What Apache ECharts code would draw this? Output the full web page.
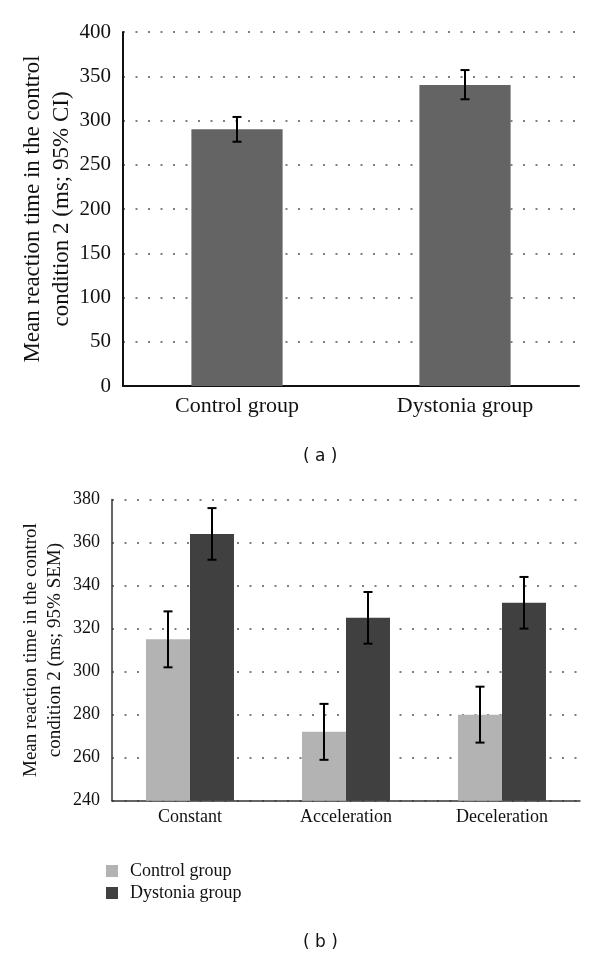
<!DOCTYPE html>
<html>
<head>
<meta charset="utf-8">
<script src="https://cdn.jsdelivr.net/npm/echarts@6/dist/echarts.min.js"></script>
<style>
html,body{margin:0;padding:0;background:#fff;}
#chart{width:600px;height:955px;}
</style>
</head>
<body>
<div id="chart"></div>
<script>
// Panel (a)
var topCategories = ['Control group', 'Dystonia group'];
var topMeans = [290, 340];
var topLow = [276, 324];
var topHigh = [304, 357];
var topTicks = [0, 50, 100, 150, 200, 250, 300, 350, 400];

// Panel (b)
var bottomCategories = ['Constant', 'Acceleration', 'Deceleration'];
var controlMeans = [315, 272, 280];
var controlLow = [302, 259, 267];
var controlHigh = [328, 285, 293];
var dystoniaMeans = [364, 325, 332];
var dystoniaLow = [352, 313, 320];
var dystoniaHigh = [376, 337, 344];
var bottomTicks = [240, 260, 280, 300, 320, 340, 360, 380];

var SERIF = '"Liberation Serif", "DejaVu Serif", serif';

function errData(lo, hi) {
  return lo.map(function (v, i) { return [i, v, hi[i]]; });
}

function makeErr(barFrac, offsetSign) {
  return function (params, api) {
    var i = api.value(0);
    var lo = api.coord([i, api.value(1)]);
    var hi = api.coord([i, api.value(2)]);
    var bw = api.size([1, 0])[0] * barFrac;
    var x = lo[0] + offsetSign * bw / 2;
    var cap = 4.5;
    var style = { stroke: '#000', lineWidth: 2 };
    return {
      type: 'group',
      children: [
        { type: 'line', shape: { x1: x, y1: lo[1], x2: x, y2: hi[1] }, style: style },
        { type: 'line', shape: { x1: x - cap, y1: lo[1], x2: x + cap, y2: lo[1] }, style: style },
        { type: 'line', shape: { x1: x - cap, y1: hi[1], x2: x + cap, y2: hi[1] }, style: style }
      ]
    };
  };
}

var dotted = { type: [2, 10.5], color: '#555', width: 1.5 };
var bottomBarFrac = 0.282;

var chart = echarts.init(document.getElementById('chart'), null, { renderer: 'canvas' });
chart.setOption({
  animation: false,
  backgroundColor: '#fff',
  textStyle: { fontFamily: SERIF },
  grid: [
    { left: 123, right: 21, top: 32, bottom: 569, containLabel: false },
    { left: 112, right: 20, top: 499.5, bottom: 154.3, containLabel: false }
  ],
  legend: {
    data: ['Control group', 'Dystonia group'],
    orient: 'vertical',
    left: 101,
    top: 857,
    itemWidth: 12,
    itemHeight: 12,
    itemGap: 4,
    icon: 'rect',
    textStyle: { fontFamily: SERIF, fontSize: 18, color: '#111', padding: [0, 0, 0, 7] },
    selectedMode: false
  },
  xAxis: [
    {
      gridIndex: 0, type: 'category', data: topCategories,
      axisLine: { lineStyle: { color: '#111', width: 2 } },
      axisTick: { show: false },
      axisLabel: { fontFamily: SERIF, fontSize: 22, color: '#111', margin: 9 },
      splitLine: { show: false }
    },
    {
      gridIndex: 1, type: 'category', data: bottomCategories,
      axisLine: { lineStyle: { color: '#333', width: 1.5 } },
      axisTick: { show: false },
      axisLabel: { fontFamily: SERIF, fontSize: 18, color: '#111', margin: 8 },
      splitLine: { show: false }
    }
  ],
  yAxis: [
    {
      gridIndex: 0, type: 'value', min: topTicks[0], max: topTicks[topTicks.length - 1], interval: 50,
      axisLine: { show: true, lineStyle: { color: '#111', width: 2 } },
      axisTick: { show: false },
      axisLabel: { fontFamily: SERIF, fontSize: 21, color: '#111', margin: 12 },
      splitLine: { show: true, lineStyle: dotted },
      name: 'Mean reaction time in the control\ncondition 2 (ms; 95% CI)',
      nameLocation: 'middle',
      nameRotate: 90,
      nameGap: 47,
      nameMoveOverlap: false,
      nameTextStyle: { fontFamily: SERIF, fontSize: 23, lineHeight: 29, color: '#111' }
    },
    {
      gridIndex: 1, type: 'value', min: bottomTicks[0], max: bottomTicks[bottomTicks.length - 1], interval: 20,
      axisLine: { show: true, lineStyle: { color: '#333', width: 1.5 } },
      axisTick: { show: false },
      axisLabel: { fontFamily: SERIF, fontSize: 18, color: '#111', margin: 12 },
      splitLine: { show: true, lineStyle: dotted },
      name: 'Mean reaction time in the control\ncondition 2 (ms; 95% SEM)',
      nameLocation: 'middle',
      nameRotate: 90,
      nameGap: 45,
      nameMoveOverlap: false,
      nameTextStyle: { fontFamily: SERIF, fontSize: 19, lineHeight: 24, color: '#111' }
    }
  ],
  graphic: [
    { type: 'text', left: 303, top: 448, style: { text: '( a )', font: '17px "DejaVu Sans", sans-serif', fill: '#111' } },
    { type: 'text', left: 303, top: 934, style: { text: '( b )', font: '17px "DejaVu Sans", sans-serif', fill: '#111' } }
  ],
  series: [
    {
      name: 'Mean RT', type: 'bar', xAxisIndex: 0, yAxisIndex: 0,
      data: topMeans, barWidth: '40%',
      itemStyle: { color: '#646464' }
    },
    {
      name: 'CI', type: 'custom', xAxisIndex: 0, yAxisIndex: 0,
      data: errData(topLow, topHigh),
      encode: { x: 0, y: [1, 2] },
      renderItem: makeErr(0, 0), z: 5
    },
    {
      name: 'Control group', type: 'bar', xAxisIndex: 1, yAxisIndex: 1,
      data: controlMeans, barWidth: (bottomBarFrac * 100) + '%', barGap: '0%',
      itemStyle: { color: '#b3b3b3' }
    },
    {
      name: 'Dystonia group', type: 'bar', xAxisIndex: 1, yAxisIndex: 1,
      data: dystoniaMeans, barWidth: (bottomBarFrac * 100) + '%', barGap: '0%',
      itemStyle: { color: '#404040' }
    },
    {
      name: 'Control SEM', type: 'custom', xAxisIndex: 1, yAxisIndex: 1,
      data: errData(controlLow, controlHigh),
      encode: { x: 0, y: [1, 2] },
      renderItem: makeErr(bottomBarFrac, -1), z: 5
    },
    {
      name: 'Dystonia SEM', type: 'custom', xAxisIndex: 1, yAxisIndex: 1,
      data: errData(dystoniaLow, dystoniaHigh),
      encode: { x: 0, y: [1, 2] },
      renderItem: makeErr(bottomBarFrac, 1), z: 5
    }
  ]
});
</script>
</body>
</html>
